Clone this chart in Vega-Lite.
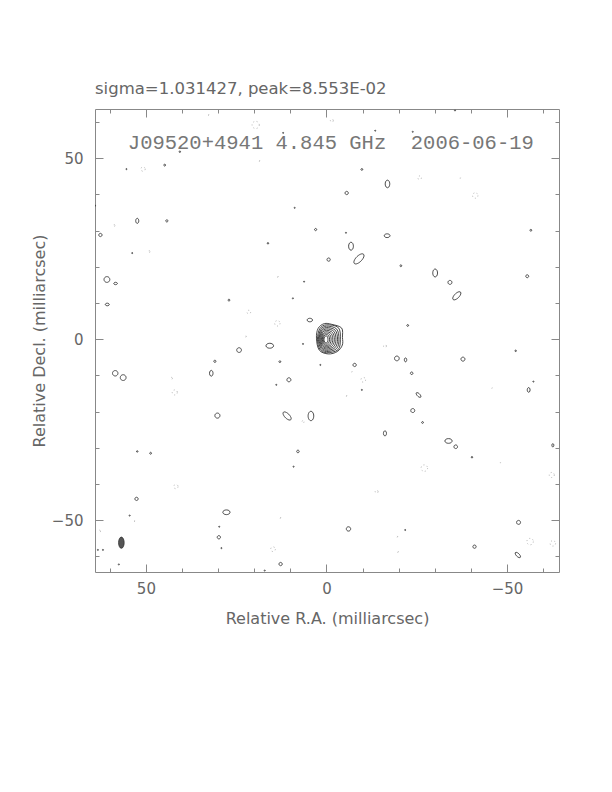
{
  "$schema": "https://vega.github.io/schema/vega-lite/v6.json",
  "width": 464,
  "height": 463,
  "autosize": "none",
  "padding": {"left": 95, "top": 109, "right": 53, "bottom": 220},
  "background": "white",
  "config": {
    "view": {"stroke": "#888", "strokeWidth": 1},
    "axis": {
      "domain": false, "grid": false, "tickColor": "#888", "tickWidth": 1,
      "labelFont": "DejaVu Sans", "labelFontSize": 15, "labelColor": "#666",
      "titleFont": "DejaVu Sans", "titleFontSize": 16, "titleFontWeight": "normal", "titleColor": "#666"
    }
  },
  "title": {
    "text": "sigma=1.031427, peak=8.553E-02",
    "anchor": "start", "frame": "group", "offset": -2, "baseline": "alphabetic",
    "font": "DejaVu Sans", "fontSize": 16.5, "fontWeight": "normal", "color": "#666"
  },
  "datasets": {
    "core": [
      {"c":1,"i":0,"ra":0.69,"dec":0},{"c":1,"i":1,"ra":0.5,"dec":0.65},{"c":1,"i":2,"ra":0,"dec":0.91},{"c":1,"i":3,"ra":-0.3,"dec":0.65},{"c":1,"i":4,"ra":-0.42,"dec":0},{"c":1,"i":5,"ra":-0.3,"dec":-0.73},{"c":1,"i":6,"ra":0,"dec":-1.02},{"c":1,"i":7,"ra":0.5,"dec":-0.73},
      {"c":2,"i":0,"ra":0.91,"dec":0},{"c":2,"i":1,"ra":0.65,"dec":0.94},{"c":2,"i":2,"ra":0,"dec":1.3},{"c":2,"i":3,"ra":-0.64,"dec":0.94},{"c":2,"i":4,"ra":-0.86,"dec":0},{"c":2,"i":5,"ra":-0.64,"dec":-0.99},{"c":2,"i":6,"ra":0,"dec":-1.38},{"c":2,"i":7,"ra":0.65,"dec":-0.99},
      {"c":3,"i":0,"ra":1.14,"dec":0},{"c":3,"i":1,"ra":0.82,"dec":1.22},{"c":3,"i":2,"ra":0,"dec":1.69},{"c":3,"i":3,"ra":-0.98,"dec":1.22},{"c":3,"i":4,"ra":-1.3,"dec":0},{"c":3,"i":5,"ra":-0.98,"dec":-1.25},{"c":3,"i":6,"ra":0,"dec":-1.74},{"c":3,"i":7,"ra":0.82,"dec":-1.25},
      {"c":4,"i":0,"ra":1.36,"dec":0},{"c":4,"i":1,"ra":0.98,"dec":1.49},{"c":4,"i":2,"ra":0,"dec":2.07},{"c":4,"i":3,"ra":-1.33,"dec":1.52},{"c":4,"i":4,"ra":-1.75,"dec":0},{"c":4,"i":5,"ra":-1.33,"dec":-1.49},{"c":4,"i":6,"ra":0,"dec":-2.07},{"c":4,"i":7,"ra":0.98,"dec":-1.49},
      {"c":5,"i":0,"ra":1.58,"dec":0},{"c":5,"i":1,"ra":1.14,"dec":1.77},{"c":5,"i":2,"ra":0,"dec":2.46},{"c":5,"i":3,"ra":-1.69,"dec":1.84},{"c":5,"i":4,"ra":-2.19,"dec":0},{"c":5,"i":5,"ra":-1.69,"dec":-1.75},{"c":5,"i":6,"ra":0,"dec":-2.4},{"c":5,"i":7,"ra":1.14,"dec":-1.73},
      {"c":6,"i":0,"ra":1.8,"dec":0},{"c":6,"i":1,"ra":1.3,"dec":2.05},{"c":6,"i":2,"ra":0,"dec":2.85},{"c":6,"i":3,"ra":-2.05,"dec":2.17},{"c":6,"i":4,"ra":-2.63,"dec":0},{"c":6,"i":5,"ra":-2.05,"dec":-2.02},{"c":6,"i":6,"ra":0,"dec":-2.73},{"c":6,"i":7,"ra":1.3,"dec":-1.97},
      {"c":7,"i":0,"ra":2.02,"dec":0},{"c":7,"i":1,"ra":1.45,"dec":2.33},{"c":7,"i":2,"ra":0,"dec":3.23},{"c":7,"i":3,"ra":-2.42,"dec":2.5},{"c":7,"i":4,"ra":-3.07,"dec":0},{"c":7,"i":5,"ra":-2.42,"dec":-2.3},{"c":7,"i":6,"ra":0,"dec":-3.07},{"c":7,"i":7,"ra":1.45,"dec":-2.21},
      {"c":8,"i":0,"ra":2.24,"dec":0},{"c":8,"i":1,"ra":1.61,"dec":2.61},{"c":8,"i":2,"ra":0,"dec":3.62},{"c":8,"i":3,"ra":-2.8,"dec":2.85},{"c":8,"i":4,"ra":-3.46,"dec":0},{"c":8,"i":5,"ra":-2.8,"dec":-2.6},{"c":8,"i":6,"ra":0,"dec":-3.4},{"c":8,"i":7,"ra":1.61,"dec":-2.45},
      {"c":9,"i":0,"ra":2.49,"dec":0},{"c":9,"i":1,"ra":1.85,"dec":2.9},{"c":9,"i":2,"ra":0,"dec":3.98},{"c":9,"i":3,"ra":-3.3,"dec":3.2},{"c":9,"i":4,"ra":-3.85,"dec":0},{"c":9,"i":5,"ra":-3.2,"dec":-2.9},{"c":9,"i":6,"ra":0,"dec":-3.73},{"c":9,"i":7,"ra":1.85,"dec":-2.7},
      {"c":10,"i":0,"ra":2.77,"dec":0.3},{"c":10,"i":1,"ra":2.3,"dec":3.0},{"c":10,"i":2,"ra":0.6,"dec":4.31},{"c":10,"i":3,"ra":-1.5,"dec":4.1},{"c":10,"i":4,"ra":-4.2,"dec":3.1},{"c":10,"i":5,"ra":-4.43,"dec":0.5},{"c":10,"i":6,"ra":-4.4,"dec":-1.6},{"c":10,"i":7,"ra":-3.0,"dec":-3.4},{"c":10,"i":8,"ra":-0.5,"dec":-4.06},{"c":10,"i":9,"ra":2.0,"dec":-3.0}
    ],
    "noise": [
      {"ra":32.8,"dec":62.0,"d":0.4,"sh":"c","s":"n"},
      {"ra":19.6,"dec":59.2,"d":2.0,"sh":"c","s":"n"},
      {"ra":40.6,"dec":51.8,"d":0.4,"sh":"c","s":"p"},
      {"ra":12.0,"dec":57.0,"d":0.3,"sh":"c","s":"p"},
      {"ra":18.7,"dec":49.3,"d":0.4,"sh":"c","s":"n"},
      {"ra":50.8,"dec":47.0,"d":1.2,"sh":"c","s":"n"},
      {"ra":55.4,"dec":47.0,"d":0.3,"sh":"c","s":"p"},
      {"ra":44.8,"dec":48.1,"d":0.5,"sh":"c","s":"p"},
      {"ra":64.2,"dec":36.9,"d":0.5,"sh":"c","s":"p"},
      {"ra":8.8,"dec":36.3,"d":0.3,"sh":"c","s":"p"},
      {"ra":52.4,"dec":32.7,"d":1.4,"sh":"v","s":"p"},
      {"ra":44.2,"dec":32.7,"d":0.6,"sh":"c","s":"p"},
      {"ra":3.0,"dec":30.3,"d":0.6,"sh":"c","s":"p"},
      {"ra":58.8,"dec":31.4,"d":0.5,"sh":"c","s":"n"},
      {"ra":62.6,"dec":28.8,"d":0.9,"sh":"c","s":"p"},
      {"ra":16.2,"dec":26.5,"d":0.4,"sh":"c","s":"p"},
      {"ra":53.8,"dec":23.8,"d":0.3,"sh":"c","s":"p"},
      {"ra":49.1,"dec":24.2,"d":0.5,"sh":"c","s":"n"},
      {"ra":60.8,"dec":16.5,"d":1.6,"sh":"c","s":"p"},
      {"ra":58.4,"dec":15.4,"d":1.0,"sh":"h","s":"p"},
      {"ra":60.7,"dec":9.6,"d":1.1,"sh":"h","s":"p"},
      {"ra":13.6,"dec":17.3,"d":0.4,"sh":"c","s":"n"},
      {"ra":6.2,"dec":15.9,"d":0.3,"sh":"c","s":"p"},
      {"ra":27.0,"dec":10.8,"d":0.5,"sh":"c","s":"p"},
      {"ra":9.3,"dec":11.3,"d":0.3,"sh":"c","s":"p"},
      {"ra":21.5,"dec":7.5,"d":1.0,"sh":"c","s":"n"},
      {"ra":13.6,"dec":4.4,"d":1.5,"sh":"c","s":"n"},
      {"ra":4.6,"dec":5.3,"d":1.5,"sh":"h","s":"p"},
      {"ra":22.4,"dec":0.8,"d":0.4,"sh":"c","s":"n"},
      {"ra":-35.6,"dec":63.2,"d":0.3,"sh":"c","s":"p"},
      {"ra":-1.5,"dec":60.4,"d":0.8,"sh":"c","s":"n"},
      {"ra":-13.5,"dec":57.6,"d":0.3,"sh":"c","s":"p"},
      {"ra":-23.9,"dec":57.3,"d":0.3,"sh":"c","s":"p"},
      {"ra":-9.8,"dec":46.9,"d":0.5,"sh":"c","s":"p"},
      {"ra":-16.9,"dec":42.9,"d":2.1,"sh":"v","s":"p"},
      {"ra":-25.8,"dec":44.6,"d":1.0,"sh":"c","s":"n"},
      {"ra":-37.0,"dec":44.6,"d":0.3,"sh":"c","s":"n"},
      {"ra":-41.2,"dec":39.7,"d":1.5,"sh":"c","s":"n"},
      {"ra":-5.6,"dec":40.4,"d":0.9,"sh":"c","s":"p"},
      {"ra":-56.6,"dec":30.1,"d":0.5,"sh":"c","s":"p"},
      {"ra":-5.4,"dec":29.4,"d":0.3,"sh":"c","s":"p"},
      {"ra":-16.8,"dec":28.6,"d":1.6,"sh":"h","s":"p"},
      {"ra":-6.8,"dec":25.7,"d":2.2,"sh":"v","s":"p"},
      {"ra":-9.0,"dec":22.2,"d":3.6,"sh":"t","s":"p"},
      {"ra":-0.6,"dec":22.0,"d":0.9,"sh":"c","s":"p"},
      {"ra":-20.6,"dec":20.3,"d":0.5,"sh":"c","s":"p"},
      {"ra":-30.1,"dec":18.3,"d":2.2,"sh":"v","s":"p"},
      {"ra":-34.2,"dec":15.7,"d":1.1,"sh":"c","s":"p"},
      {"ra":-36.1,"dec":12.0,"d":2.9,"sh":"t","s":"p"},
      {"ra":-55.6,"dec":17.4,"d":0.8,"sh":"c","s":"p"},
      {"ra":-22.5,"dec":3.8,"d":0.5,"sh":"c","s":"p"},
      {"ra":15.7,"dec":-1.8,"d":2.1,"sh":"h","s":"p"},
      {"ra":24.2,"dec":-3.0,"d":1.3,"sh":"c","s":"p"},
      {"ra":6.5,"dec":-1.3,"d":0.3,"sh":"c","s":"p"},
      {"ra":30.9,"dec":-6.1,"d":0.6,"sh":"c","s":"p"},
      {"ra":12.9,"dec":-6.2,"d":0.5,"sh":"c","s":"p"},
      {"ra":58.5,"dec":-9.4,"d":1.5,"sh":"c","s":"p"},
      {"ra":56.3,"dec":-10.6,"d":1.6,"sh":"c","s":"p"},
      {"ra":31.9,"dec":-9.4,"d":1.6,"sh":"v","s":"p"},
      {"ra":42.9,"dec":-10.8,"d":0.5,"sh":"c","s":"n"},
      {"ra":42.0,"dec":-14.7,"d":1.4,"sh":"c","s":"n"},
      {"ra":10.4,"dec":-11.2,"d":1.1,"sh":"c","s":"p"},
      {"ra":13.9,"dec":-12.6,"d":0.3,"sh":"c","s":"p"},
      {"ra":30.2,"dec":-21.1,"d":1.4,"sh":"c","s":"p"},
      {"ra":10.9,"dec":-21.2,"d":2.9,"sh":"u","s":"p"},
      {"ra":4.3,"dec":-21.2,"d":2.6,"sh":"v","s":"p"},
      {"ra":6.5,"dec":-22.8,"d":0.6,"sh":"c","s":"n"},
      {"ra":52.4,"dec":-31.0,"d":0.4,"sh":"c","s":"p"},
      {"ra":48.7,"dec":-31.5,"d":0.5,"sh":"c","s":"p"},
      {"ra":7.9,"dec":-31.0,"d":0.7,"sh":"c","s":"p"},
      {"ra":9.1,"dec":-35.2,"d":0.3,"sh":"c","s":"p"},
      {"ra":41.7,"dec":-40.7,"d":1.2,"sh":"c","s":"n"},
      {"ra":52.6,"dec":-44.1,"d":0.9,"sh":"c","s":"p"},
      {"ra":54.5,"dec":-48.7,"d":0.3,"sh":"c","s":"p"},
      {"ra":53.3,"dec":-50.2,"d":0.4,"sh":"c","s":"n"},
      {"ra":27.7,"dec":-47.8,"d":2.0,"sh":"h","s":"p"},
      {"ra":29.7,"dec":-51.8,"d":0.3,"sh":"c","s":"p"},
      {"ra":29.8,"dec":-54.7,"d":0.9,"sh":"c","s":"p"},
      {"ra":29.1,"dec":-57.7,"d":0.3,"sh":"c","s":"p"},
      {"ra":12.9,"dec":-49.3,"d":0.4,"sh":"c","s":"n"},
      {"ra":14.8,"dec":-58.0,"d":1.3,"sh":"c","s":"n"},
      {"ra":12.7,"dec":-62.1,"d":0.9,"sh":"c","s":"p"},
      {"ra":17.1,"dec":-63.9,"d":0.3,"sh":"c","s":"p"},
      {"ra":62.8,"dec":-53.0,"d":0.5,"sh":"c","s":"n"},
      {"ra":63.3,"dec":-58.2,"d":0.3,"sh":"c","s":"p"},
      {"ra":61.9,"dec":-58.2,"d":0.3,"sh":"c","s":"p"},
      {"ra":57.5,"dec":-62.2,"d":0.3,"sh":"c","s":"p"},
      {"ra":1.7,"dec":-7.1,"d":0.3,"sh":"c","s":"p"},
      {"ra":-16.2,"dec":-1.9,"d":0.8,"sh":"c","s":"n"},
      {"ra":-52.4,"dec":-3.2,"d":0.4,"sh":"c","s":"p"},
      {"ra":-19.5,"dec":-5.3,"d":1.3,"sh":"c","s":"p"},
      {"ra":-21.9,"dec":-5.7,"d":1.1,"sh":"v","s":"p"},
      {"ra":-37.8,"dec":-5.5,"d":1.1,"sh":"c","s":"p"},
      {"ra":-7.8,"dec":-7.1,"d":0.9,"sh":"c","s":"p"},
      {"ra":-23.6,"dec":-9.4,"d":0.7,"sh":"c","s":"p"},
      {"ra":-10.2,"dec":-11.2,"d":1.3,"sh":"c","s":"n"},
      {"ra":-7.0,"dec":-8.9,"d":0.3,"sh":"c","s":"n"},
      {"ra":-5.4,"dec":-15.6,"d":0.4,"sh":"c","s":"n"},
      {"ra":-9.8,"dec":-14.0,"d":0.3,"sh":"c","s":"p"},
      {"ra":-45.8,"dec":-13.4,"d":0.3,"sh":"c","s":"n"},
      {"ra":-56.0,"dec":-14.0,"d":1.3,"sh":"v","s":"p"},
      {"ra":-57.3,"dec":-11.7,"d":0.3,"sh":"c","s":"p"},
      {"ra":-25.5,"dec":-15.4,"d":1.7,"sh":"u","s":"p"},
      {"ra":-23.9,"dec":-19.7,"d":1.1,"sh":"c","s":"p"},
      {"ra":-26.6,"dec":-23.0,"d":0.5,"sh":"c","s":"p"},
      {"ra":-16.2,"dec":-26.0,"d":1.4,"sh":"v","s":"p"},
      {"ra":-33.8,"dec":-28.1,"d":2.0,"sh":"h","s":"p"},
      {"ra":-35.8,"dec":-29.7,"d":1.0,"sh":"c","s":"p"},
      {"ra":-40.3,"dec":-32.6,"d":0.4,"sh":"c","s":"p"},
      {"ra":-48.1,"dec":-34.0,"d":0.3,"sh":"c","s":"n"},
      {"ra":-27.1,"dec":-35.6,"d":1.8,"sh":"c","s":"n"},
      {"ra":-62.7,"dec":-29.3,"d":0.9,"sh":"v","s":"p"},
      {"ra":-62.4,"dec":-37.5,"d":1.4,"sh":"c","s":"n"},
      {"ra":-13.9,"dec":-42.1,"d":0.8,"sh":"c","s":"n"},
      {"ra":-6.1,"dec":-52.4,"d":1.2,"sh":"c","s":"p"},
      {"ra":-21.8,"dec":-52.7,"d":0.3,"sh":"c","s":"p"},
      {"ra":-19.5,"dec":-54.5,"d":0.4,"sh":"c","s":"n"},
      {"ra":-19.7,"dec":-58.7,"d":0.4,"sh":"c","s":"n"},
      {"ra":-41.0,"dec":-57.3,"d":0.9,"sh":"c","s":"p"},
      {"ra":-53.2,"dec":-50.6,"d":1.1,"sh":"c","s":"p"},
      {"ra":-56.4,"dec":-55.9,"d":1.8,"sh":"c","s":"n"},
      {"ra":-53.0,"dec":-59.6,"d":1.9,"sh":"u","s":"p"},
      {"ra":-62.7,"dec":-56.4,"d":1.5,"sh":"c","s":"n"}
    ],
    "beam": [{"ra": 56.8, "dec": -56.2, "d": 3.1, "sh": "b", "s": "p"}],
    "label": [{"ra": 55.0, "dec": 52.6, "t": "J09520+4941 4.845 GHz\u00a0\u00a02006-06-19"}]
  },
  "resolve": {"axis": {"x": "independent", "y": "independent"}},
  "layer": [
    {
      "data": {"name": "core"},
      "mark": {"type": "line", "interpolate": "cardinal-closed", "stroke": "#333", "strokeWidth": 0.9, "clip": true},
      "encoding": {
        "x": {"field": "ra", "type": "quantitative",
              "scale": {"domain": [-64.4, 64.1], "reverse": true, "nice": false, "zero": false},
              "axis": {"orient": "bottom", "values": [50, 0, -50], "tickSize": -8, "labelPadding": 17, "titlePadding": 14, "title": "Relative R.A. (milliarcsec)"}},
        "y": {"field": "dec", "type": "quantitative",
              "scale": {"domain": [-64.3, 63.6], "nice": false, "zero": false},
              "axis": {"orient": "left", "values": [50, 0, -50], "tickSize": -8, "labelPadding": 20, "titlePadding": 4, "title": "Relative Decl. (milliarcsec)"}},
        "detail": {"field": "c", "type": "nominal"},
        "order": {"field": "i", "type": "quantitative"}
      }
    },
    {
      "data": {"name": "noise"},
      "mark": {"type": "point", "filled": false, "strokeWidth": 0.9, "clip": true, "opacity": 1},
      "encoding": {
        "x": {"field": "ra", "type": "quantitative",
              "axis": {"orient": "top", "values": [50, 0, -50], "tickSize": -8, "labels": false, "title": null}},
        "y": {"field": "dec", "type": "quantitative",
              "axis": {"orient": "right", "values": [50, 0, -50], "tickSize": -8, "labels": false, "title": null}},
        "size": {"field": "d", "type": "quantitative", "scale": {"type": "pow", "exponent": 2, "domain": [0, 4], "range": [0, 208]}, "legend": null},
        "shape": {"field": "sh", "type": "nominal", "legend": null,
                  "scale": {"domain": ["c", "v", "h", "t", "u", "b"],
                            "range": ["circle",
                                      "M0,-1A0.6,1 0 1,1 0,1A0.6,1 0 1,1 0,-1Z",
                                      "M-1,0A1,0.65 0 1,1 1,0A1,0.65 0 1,1 -1,0Z",
                                      "M0.707,-0.707A1,0.45 -45 1,1 -0.707,0.707A1,0.45 -45 1,1 0.707,-0.707Z",
                                      "M-0.707,-0.707A1,0.45 45 1,1 0.707,0.707A1,0.45 45 1,1 -0.707,-0.707Z",
                                      "M0,-1A0.5,1 0 1,1 0,1A0.5,1 0 1,1 0,-1Z"]}},
        "stroke": {"field": "s", "type": "nominal", "legend": null, "scale": {"domain": ["p", "n"], "range": ["#333", "#aaa"]}},
        "strokeDash": {"field": "s", "type": "nominal", "legend": null, "scale": {"domain": ["p", "n"], "range": [[1, 0], [1, 2.5]]}}
      }
    },
    {
      "data": {"name": "beam"},
      "mark": {"type": "point", "filled": true, "fill": "#555", "stroke": "#333", "strokeWidth": 0.8, "opacity": 1},
      "encoding": {
        "x": {"field": "ra", "type": "quantitative",
              "axis": {"orient": "bottom", "values": [60, 40, 30, 20, 10, -10, -20, -30, -40, -60], "tickSize": -4, "labels": false, "title": null}},
        "y": {"field": "dec", "type": "quantitative",
              "axis": {"orient": "left", "values": [60, 40, 30, 20, 10, -10, -20, -30, -40, -60], "tickSize": -4, "labels": false, "title": null}},
        "size": {"field": "d", "type": "quantitative", "legend": null},
        "shape": {"field": "sh", "type": "nominal", "legend": null}
      }
    },
    {
      "data": {"name": "label"},
      "mark": {"type": "text", "align": "left", "baseline": "alphabetic", "font": "Liberation Mono", "fontSize": 20.5, "fill": "#777"},
      "encoding": {
        "x": {"field": "ra", "type": "quantitative",
              "axis": {"orient": "top", "values": [60, 40, 30, 20, 10, -10, -20, -30, -40, -60], "tickSize": -4, "labels": false, "title": null}},
        "y": {"field": "dec", "type": "quantitative",
              "axis": {"orient": "right", "values": [60, 40, 30, 20, 10, -10, -20, -30, -40, -60], "tickSize": -4, "labels": false, "title": null}},
        "text": {"field": "t"}
      }
    }
  ]
}
